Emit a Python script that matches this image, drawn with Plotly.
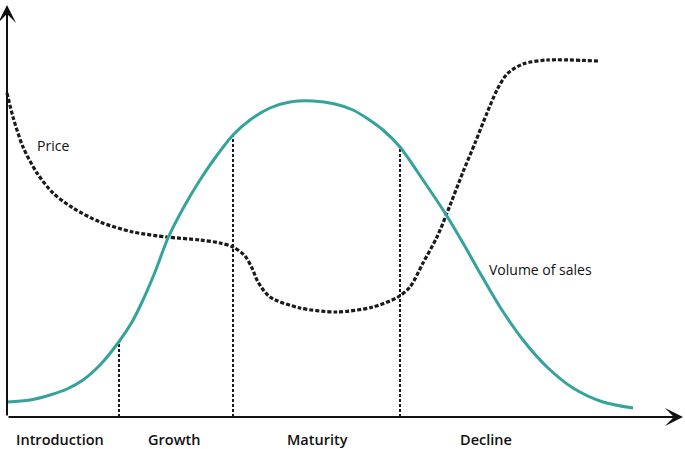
import plotly.graph_objects as go

# Coordinates: x = time units from origin, y = level above the time axis
vol_x = [0, 23, 43, 60, 76, 93, 111, 125, 136, 148, 161, 178, 193, 208, 226, 243, 263, 283, 306,
         328, 346, 361, 376, 393, 416, 438, 456, 473, 493, 516, 540, 566, 596, 626]
vol_y = [15, 17, 22, 28, 37, 52, 74, 95, 117, 145, 179, 212, 237, 259, 282, 297, 309, 315, 316,
         313, 307, 298, 287, 270, 237, 204, 174, 144, 110, 77, 50, 29, 15, 9]

price_x = [0, 6, 16, 30, 46, 66, 93, 126, 160, 193, 213, 226, 238, 245, 251, 263, 293, 330, 366,
           391, 403, 416, 430, 440, 456, 468, 480, 490, 500, 516, 540, 591]
price_y = [324, 300, 270, 244, 224, 209, 195, 185, 180, 177, 174, 170, 161, 149, 135, 120, 109,
           105, 110, 120, 130, 154, 180, 204, 245, 274, 304, 327, 343, 353, 357, 356]

stage_bounds = [112, 226, 393]
stage_tops = [74, 282, 270]
stage_names = ["Introduction", "Growth", "Maturity", "Decline"]
stage_centers = [53, 167, 310, 479]

fig = go.Figure()

for b, t in zip(stage_bounds, stage_tops):
    fig.add_trace(go.Scatter(x=[b, b], y=[0, t], mode="lines",
                             line=dict(color="#1a1a1a", width=2, dash="3px,2px"),
                             hoverinfo="skip", showlegend=False))

fig.add_trace(go.Scatter(x=price_x, y=price_y, mode="lines", line_shape="spline",
                         line=dict(color="#1a1a1a", width=3.2, dash="4px,2px", smoothing=0.8),
                         showlegend=False))
fig.add_trace(go.Scatter(x=vol_x, y=vol_y, mode="lines", line_shape="spline",
                         line=dict(color="#34a39c", width=3, smoothing=0.8),
                         showlegend=False))

# Axes with arrows
fig.add_annotation(x=676, y=0, ax=0, ay=0, xref="x", yref="y", axref="x", ayref="y",
                   showarrow=True, arrowhead=3, arrowsize=1.5, arrowwidth=2,
                   arrowcolor="#111111", text="", standoff=0)
fig.add_annotation(x=0, y=412, ax=0, ay=0, xref="x", yref="y", axref="x", ayref="y",
                   showarrow=True, arrowhead=3, arrowsize=1.5, arrowwidth=2,
                   arrowcolor="#111111", text="", standoff=0)

for name, cx in zip(stage_names, stage_centers):
    fig.add_annotation(x=cx, y=-22, text=name, showarrow=False,
                       font=dict(family="Open Sans", size=14.5, color="#111111", weight=600),
                       xanchor="center", yanchor="middle")

fig.add_annotation(x=28, y=272, text="Price", showarrow=False, xanchor="left", yanchor="middle",
                   font=dict(family="Open Sans", size=14, color="#111111"))
fig.add_annotation(x=480, y=148, text="Volume of sales", showarrow=False, xanchor="left",
                   yanchor="middle", font=dict(family="Open Sans", size=14, color="#111111"))

fig.update_layout(
    width=685, height=449,
    margin=dict(l=0, r=0, t=0, b=0),
    paper_bgcolor="white", plot_bgcolor="white",
    xaxis=dict(range=[-7, 678], visible=False, fixedrange=True),
    yaxis=dict(range=[-32, 417], visible=False, fixedrange=True),
    showlegend=False,
)

fig.write_html("out.html", config={"displayModeBar": False},
               post_script="document.body.style.margin='0';document.body.style.overflow='hidden';")
